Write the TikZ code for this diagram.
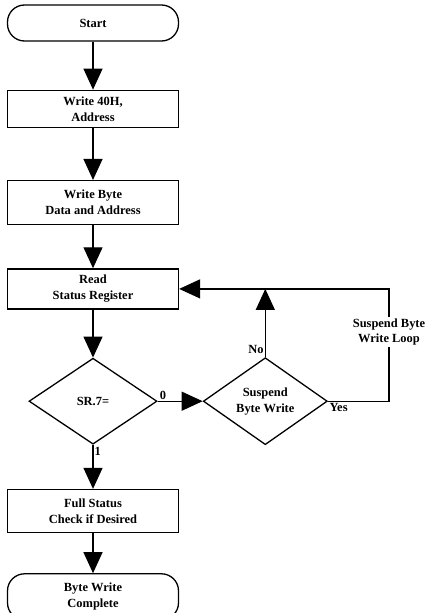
\documentclass[tikz,border=0pt]{standalone}
\usepackage{fontspec}
\setmainfont{Liberation Serif}
\usetikzlibrary{positioning,arrows.meta,shapes.geometric}

\begin{document}
\begin{tikzpicture}[x=1bp,y=-1bp,->,>={Triangle[width=19bp,length=21bp]},
  line width=1.3bp,
  every node/.style={font=\fontsize{12.5}{16}\selectfont\bfseries,align=center},
  box node/.style={rectangle,draw,minimum width=171bp},
  end node/.style={rectangle,draw,rounded corners=17bp,minimum width=171bp},
  test node/.style={diamond,draw,inner sep=0bp},
  tag/.style={font=\fontsize{12.5}{16}\selectfont\bfseries,inner sep=1bp}]

  \useasboundingbox (0,0) rectangle (433,613);

  \node[end node,minimum height=36bp] (start) at (93,23) {Start};
  \node[box node,minimum height=37bp] (w40) [below=48bp of start] {Write 40H,\\Address};
  \node[box node,minimum height=44bp] (wbyte) [below=52bp of w40] {Write Byte\\Data and Address};
  \node[box node,minimum height=40bp] (read) [below=43bp of wbyte] {Read\\Status Register};

  \node[test node,minimum width=128bp,minimum height=86bp] (sr7) [below=48bp of read] {SR.7=};
  \node[test node,minimum width=124bp,minimum height=87bp] (susp) [right=45bp of sr7] {Suspend\\Byte Write};

  \node[box node,minimum height=43bp] (full) [below=44bp of sr7] {Full Status\\Check if Desired};
  \node[end node,minimum height=46bp] (done) [below=40bp of full] {Byte Write\\Complete};

  \node[tag] (loop) at (389,332) {Suspend Byte\\Write Loop};

  \path
    (start) edge (w40)
    (w40) edge (wbyte)
    (wbyte) edge (read)
    (read) edge (sr7)
    (sr7.east) edge node[tag,above,pos=0.12] {0} (susp.west)
    (sr7.south) edge node[tag,right,pos=0.15] {1} (full)
    (full) edge (done)
    (susp.north) edge node[tag,above left,pos=0.02] {No} (susp.north |- read.east);

  \draw[-] (susp.east) node[tag,below right] {Yes} -| (loop.south);
  \draw (loop.north) |- (read.east);
\end{tikzpicture}
\end{document}
